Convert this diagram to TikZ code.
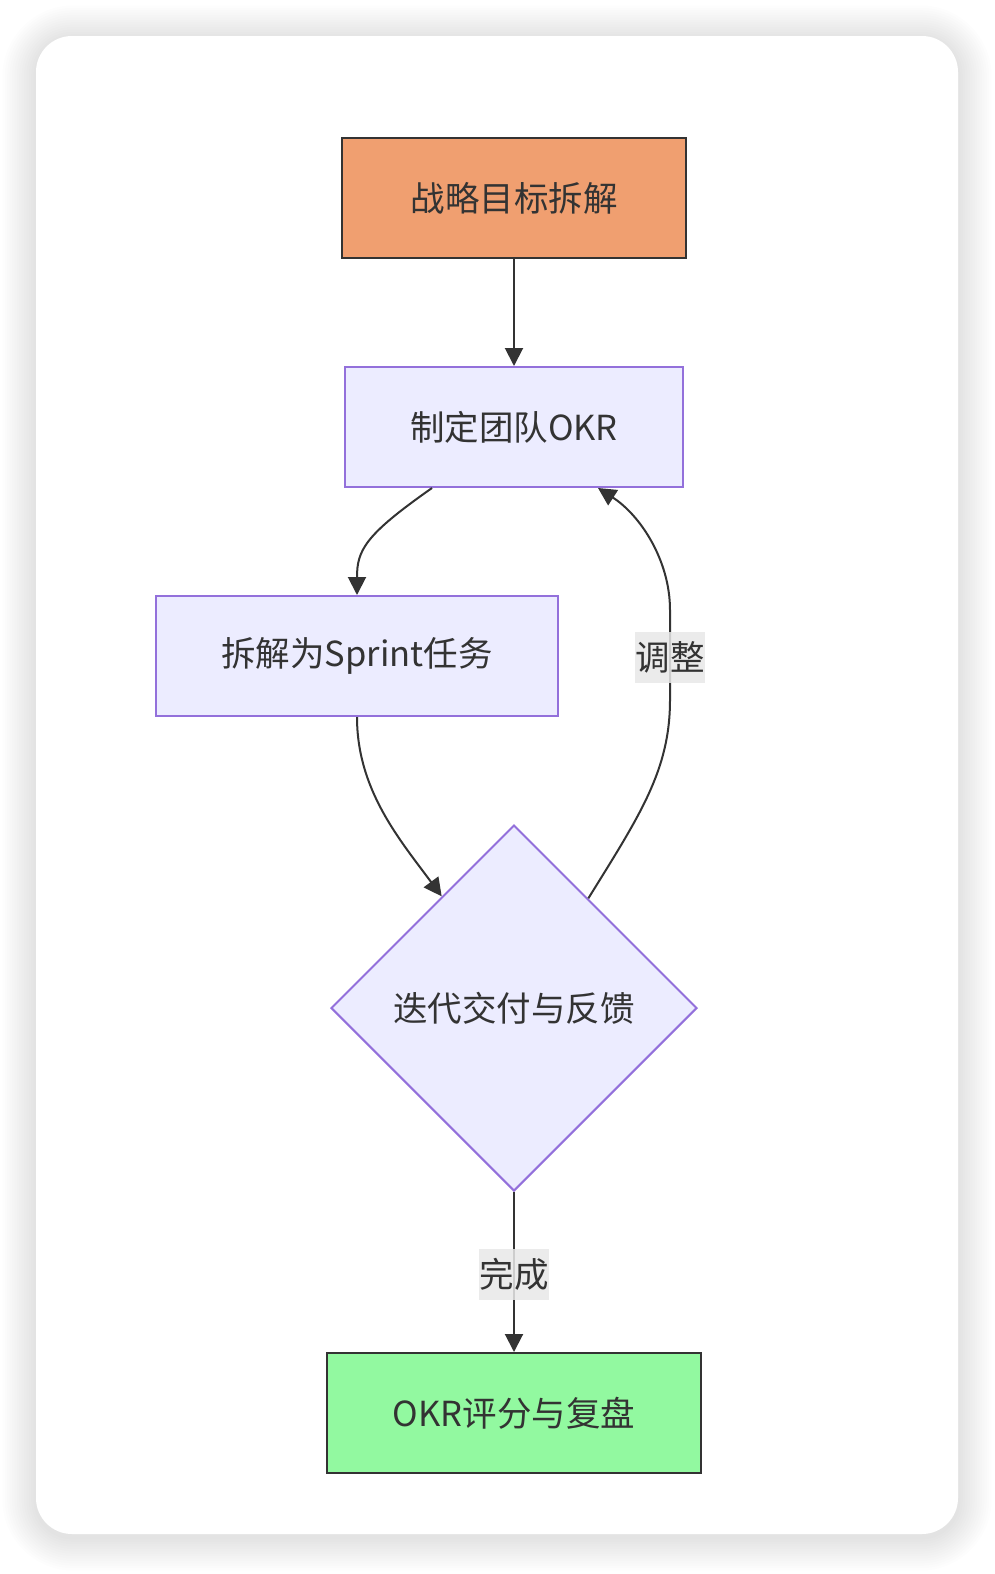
\documentclass[tikz,border=0pt]{standalone}
\usepackage{fontspec}
\newfontfamily\cjk{Noto Sans CJK SC}
\usetikzlibrary{shapes.geometric,arrows.meta,calc}
\definecolor{ink}{HTML}{333333}
\definecolor{orangefill}{HTML}{F09F70}
\definecolor{lavfill}{HTML}{ECECFF}
\definecolor{lavline}{HTML}{9370DB}
\definecolor{greenfill}{HTML}{92F9A0}
\definecolor{lblgray}{HTML}{E8E8E8}
\tikzset{
  nodebox/.style={rectangle, line width=2pt, minimum height=120pt, inner sep=0pt,
    text=ink, font=\cjk\fontsize{34.5}{40}\selectfont},
  purplebox/.style={nodebox, fill=lavfill, draw=lavline},
  edgeline/.style={draw=ink, line width=2pt, -{Triangle[length=18pt,width=18pt]}},
  edgelabel/.style={fill=lblgray, fill opacity=0.85, text opacity=1, text=ink,
    inner sep=0pt, minimum width=70pt, minimum height=51pt,
    font=\cjk\fontsize{34.5}{40}\selectfont}
}
\begin{document}
\begin{tikzpicture}[x=1pt,y=-1pt]
\useasboundingbox (0,0) rectangle (994,1574);
% shadow
\foreach \i in {1,...,14}{
  \pgfmathsetmacro\r{36+2.5*\i}
  \fill[black, opacity=0.0085, rounded corners=\r pt] ({36-2.4*\i},{39-2.4*\i}) rectangle ({958+2.4*\i},{1537+2.4*\i});
}
% card
\fill[white, rounded corners=36pt] (36,36) rectangle (958,1534);

% nodes
\node[nodebox, fill=orangefill, draw=ink, minimum width=344pt] (A) at (514,198) {战略目标拆解};
\node[purplebox, minimum width=338pt] (B) at (514,427) {制定团队OKR};
\node[purplebox, minimum width=402pt] (C) at (357,656) {拆解为Sprint任务};
\node[diamond, aspect=1, fill=lavfill, draw=lavline, line width=2pt, minimum width=366pt, minimum height=366pt, inner sep=0pt, text=ink, font=\cjk\fontsize{34.5}{40}\selectfont] (D) at (514,1008) {迭代交付与反馈};
\node[nodebox, fill=greenfill, draw=ink, minimum width=374pt] (E) at (514,1413) {OKR评分与复盘};

% connection points
\coordinate (bc1) at ([xshift=-82pt]B.south);
\coordinate (cd2) at ($(D.north)!0.393!(D.west)$);
\coordinate (db1) at ($(D.north)!0.404!(D.east)$);
\coordinate (db2) at ([xshift=84pt]B.south);
\coordinate (dbm1) at (670,700);
\coordinate (dbm2) at (670,610);

% edges
\draw[edgeline] (A.south) -- (B.north);
\draw[edgeline] (bc1) .. controls (365,535) and (357,550) .. (C.north);
\draw[edgeline] (C.south) .. controls (357,790) and (400,840) .. (cd2);
\draw[edgeline] (db1) .. controls (640,815) and (670,770) .. (dbm1) -- (dbm2) .. controls (670,560) and (640,515) .. (db2);
\draw[edgeline] (D.south) -- (E.north);

% labels
\node[edgelabel] (L1) at (670,657) {调整};
\node[edgelabel] (L2) at (514,1274) {完成};
\end{tikzpicture}
\end{document}
